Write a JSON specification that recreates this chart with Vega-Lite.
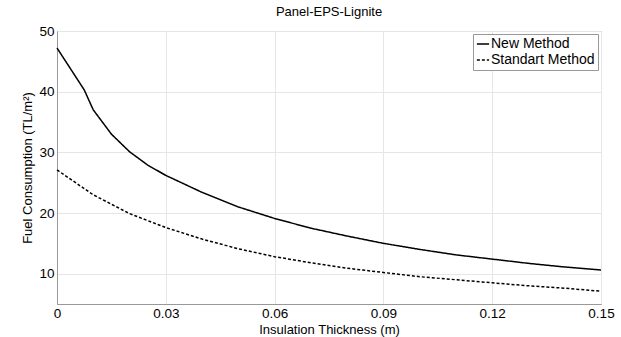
{
  "$schema": "https://vega.github.io/schema/vega-lite/v6.json",
  "width": 544,
  "height": 273,
  "padding": {"left": 21, "top": 6, "right": 10, "bottom": 2},
  "background": "white",
  "config": {
    "font": "Liberation Sans",
    "view": {"stroke": "#999999", "strokeWidth": 1},
    "axis": {"labelFont": "Liberation Sans", "titleFont": "Liberation Sans", "labelColor": "black", "titleColor": "black", "labelFontSize": 13.5, "titleFontSize": 13, "titleFontWeight": "normal", "domainColor": "#999999", "tickColor": "#999999", "gridColor": "#e6e6e6", "tickSize": 0, "labelPadding": 3},
    "title": {"font": "Liberation Sans", "fontSize": 13, "fontWeight": "normal", "color": "black"}
  },
  "title": {"text": "Panel-EPS-Lignite", "offset": 5},
  "data": {"values": [
    {"x": 0, "y": 47.2, "m": "New Method"},
    {"x": 0.0075, "y": 40.3, "m": "New Method"},
    {"x": 0.01, "y": 37.0, "m": "New Method"},
    {"x": 0.015, "y": 33.0, "m": "New Method"},
    {"x": 0.02, "y": 30.1, "m": "New Method"},
    {"x": 0.025, "y": 27.9, "m": "New Method"},
    {"x": 0.03, "y": 26.2, "m": "New Method"},
    {"x": 0.04, "y": 23.4, "m": "New Method"},
    {"x": 0.05, "y": 21.0, "m": "New Method"},
    {"x": 0.06, "y": 19.1, "m": "New Method"},
    {"x": 0.07, "y": 17.5, "m": "New Method"},
    {"x": 0.08, "y": 16.2, "m": "New Method"},
    {"x": 0.09, "y": 15.0, "m": "New Method"},
    {"x": 0.1, "y": 14.0, "m": "New Method"},
    {"x": 0.11, "y": 13.1, "m": "New Method"},
    {"x": 0.12, "y": 12.4, "m": "New Method"},
    {"x": 0.13, "y": 11.7, "m": "New Method"},
    {"x": 0.14, "y": 11.1, "m": "New Method"},
    {"x": 0.15, "y": 10.6, "m": "New Method"},
    {"x": 0, "y": 27.1, "m": "Standart Method"},
    {"x": 0.01, "y": 23.0, "m": "Standart Method"},
    {"x": 0.02, "y": 19.9, "m": "Standart Method"},
    {"x": 0.03, "y": 17.6, "m": "Standart Method"},
    {"x": 0.04, "y": 15.7, "m": "Standart Method"},
    {"x": 0.05, "y": 14.1, "m": "Standart Method"},
    {"x": 0.06, "y": 12.8, "m": "Standart Method"},
    {"x": 0.07, "y": 11.8, "m": "Standart Method"},
    {"x": 0.08, "y": 10.9, "m": "Standart Method"},
    {"x": 0.09, "y": 10.2, "m": "Standart Method"},
    {"x": 0.1, "y": 9.5, "m": "Standart Method"},
    {"x": 0.11, "y": 9.0, "m": "Standart Method"},
    {"x": 0.12, "y": 8.5, "m": "Standart Method"},
    {"x": 0.13, "y": 8.0, "m": "Standart Method"},
    {"x": 0.14, "y": 7.6, "m": "Standart Method"},
    {"x": 0.15, "y": 7.1, "m": "Standart Method"}
  ]},
  "mark": {"type": "line", "color": "black", "strokeWidth": 1.5},
  "encoding": {
    "x": {"field": "x", "type": "quantitative", "title": "Insulation Thickness (m)", "titlePadding": -2,
      "scale": {"domain": [0, 0.15], "nice": false},
      "axis": {"values": [0, 0.03, 0.06, 0.09, 0.12, 0.15], "format": "~g", "labelFlush": false, "labelPadding": 2}},
    "y": {"field": "y", "type": "quantitative", "title": "Fuel Consumption (TL/m²)", "titlePadding": 6,
      "scale": {"domain": [5, 50], "nice": false},
      "axis": {"values": [10, 20, 30, 40, 50]}},
    "strokeDash": {"field": "m", "type": "nominal",
      "scale": {"domain": ["New Method", "Standart Method"], "range": [[1, 0], [3, 2]]},
      "legend": {"title": null, "orient": "top-right", "offset": 3, "fillColor": "white", "strokeColor": "#999999", "padding": 3, "labelFontSize": 14, "labelColor": "black", "labelFont": "Liberation Sans", "symbolType": "stroke", "symbolSize": 150, "symbolStrokeColor": "black", "symbolStrokeWidth": 1.5, "rowPadding": 2, "labelOffset": 1}}
  }
}
